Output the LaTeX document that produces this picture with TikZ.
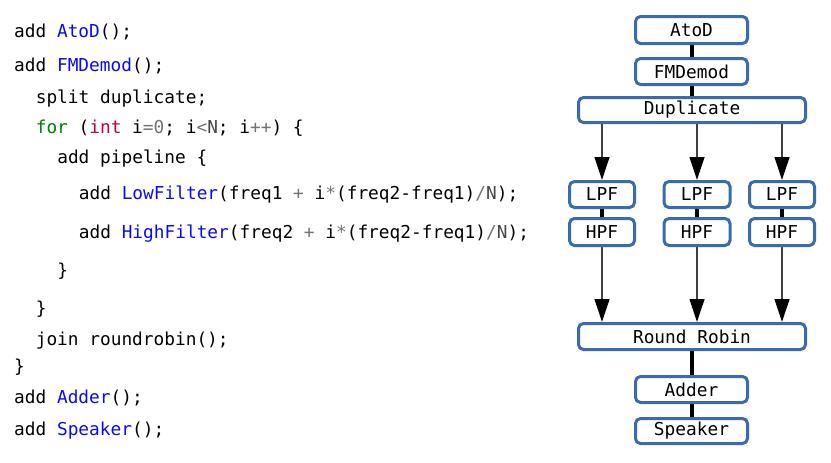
\documentclass[tikz,border=0pt]{standalone}
\usepackage{fontspec}
\setmonofont{DejaVu Sans Mono}
\usetikzlibrary{arrows.meta,backgrounds}

\definecolor{fnblue}{RGB}{10,10,245}
\definecolor{kwgreen}{RGB}{0,128,0}
\definecolor{kwred}{RGB}{190,0,70}
\definecolor{opgray}{RGB}{115,115,115}
\definecolor{idgray}{RGB}{70,70,70}
\definecolor{blkborder}{RGB}{58,107,174}

\newcommand\codefont{\ttfamily\fontsize{17.8}{21}\selectfont\frenchspacing}
\newcommand\fn[1]{\textcolor{fnblue}{#1}}
\newcommand\op[1]{\textcolor{opgray}{#1}}

\begin{document}
\begin{tikzpicture}[x=1pt,y=-1pt,
  code/.style={anchor=base west, inner sep=0pt, font=\codefont},
  blk/.style={draw=blkborder, line width=3pt, rounded corners=5pt, fill=white,
              inner sep=0pt, font=\codefont, text=black},
  link/.style={line width=4pt, draw=black},
  flow/.style={line width=1.2pt, draw=black!75,
               -{Triangle[width=15pt,length=23pt,color=black]}}]

\useasboundingbox (0,0) rectangle (831,463);

% ---- source listing ----
\node[code] (c1)  at (14,37)    {add \fn{AtoD}();};
\node[code] (c2)  at (14,71)    {add \fn{FMDemod}();};
\node[code] (c3)  at (35.6,103) {split duplicate;};
\node[code] (c4)  at (35.6,133) {\textcolor{kwgreen}{for} (\textcolor{kwred}{int} i\op{=}\op{0}; i\op{<}\textcolor{idgray}{N}; i\op{++}) \{};
\node[code] (c5)  at (57.1,163) {add pipeline \{};
\node[code] (c6)  at (78.7,199) {add \fn{LowFilter}(freq1 \op{+} i\op{*}(freq2-freq1)\op{/}\textcolor{idgray}{N});};
\node[code] (c7)  at (78.7,238) {add \fn{HighFilter}(freq2 \op{+} i\op{*}(freq2-freq1)\op{/}\textcolor{idgray}{N});};
\node[code] (c8)  at (57.1,276) {\}};
\node[code] (c9)  at (35.6,314) {\}};
\node[code] (c10) at (35.6,345) {join roundrobin();};
\node[code] (c11) at (14,372)   {\}};
\node[code] (c12) at (14,403)   {add \fn{Adder}();};
\node[code] (c13) at (14,435)   {add \fn{Speaker}();};

% ---- stream graph ----
\node[blk, minimum width=112, minimum height=27] (atod)  at (691.5,30)   {AtoD};
\node[blk, minimum width=112, minimum height=26] (fmd)   at (691.5,71.5) {FMDemod};
\node[blk, minimum width=227, minimum height=25] (dup)   at (692,110)    {Duplicate};

\node[blk, minimum width=65, minimum height=26] (lpfa) at (602,194.5) {LPF};
\node[blk, minimum width=66, minimum height=26] (lpfb) at (697,194.5) {LPF};
\node[blk, minimum width=65, minimum height=26] (lpfc) at (782,194.5) {LPF};
\node[blk, minimum width=65, minimum height=27] (hpfa) at (602,232) {HPF};
\node[blk, minimum width=66, minimum height=27] (hpfb) at (697,232) {HPF};
\node[blk, minimum width=65, minimum height=27] (hpfc) at (782,232) {HPF};

\node[blk, minimum width=227, minimum height=26] (rr)    at (692,336.5) {Round Robin};
\node[blk, minimum width=112, minimum height=26] (adder) at (691.5,389.5) {Adder};
\node[blk, minimum width=112, minimum height=25] (spk)   at (691.5,431)  {Speaker};

\begin{scope}[on background layer]
  % pipeline joints
  \draw[link] (atod.south) -- (fmd.north);
  \draw[link] (fmd.south) -- (fmd.south |- dup.north);
  \draw[link] (lpfa) -- (hpfa);
  \draw[link] (lpfb) -- (hpfb);
  \draw[link] (lpfc) -- (hpfc);
  \draw[link] (rr.south -| adder.north) -- (adder.north);
  \draw[link] (adder.south) -- (spk.north);
  % splitter and joiner branches
  \draw[flow] (dup.south -| lpfa.north) -- (lpfa.north);
  \draw[flow] (dup.south -| lpfb.north) -- (lpfb.north);
  \draw[flow] (dup.south -| lpfc.north) -- (lpfc.north);
  \draw[flow] (hpfa.south) -- (hpfa.south |- rr.north);
  \draw[flow] (hpfb.south) -- (hpfb.south |- rr.north);
  \draw[flow] (hpfc.south) -- (hpfc.south |- rr.north);
\end{scope}
\end{tikzpicture}
\end{document}
